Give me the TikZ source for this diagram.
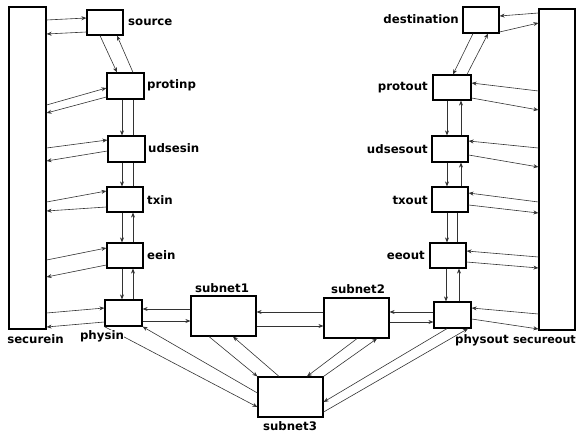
\documentclass[tikz,border=0pt]{standalone}
\usepackage{fontspec}
\setmainfont{DejaVu Sans}
\usetikzlibrary{arrows.meta,calc}
\begin{document}
\begin{tikzpicture}[x=1bp,y=-1bp,
  blk/.style={draw,line width=1.2bp,inner sep=0pt,minimum width=36bp,minimum height=25bp},
  net/.style={blk,minimum width=65bp,minimum height=40bp},
  bar/.style={draw,line width=1.2bp,inner sep=0pt},
  arr/.style={line width=0.6bp,draw=black!80,-{Stealth[length=5bp,width=4bp]}},
  ln/.style={line width=0.6bp,draw=black!80},
  lbl/.style={font=\fontsize{11.8}{14}\selectfont\bfseries,inner sep=1pt}]
\useasboundingbox (0,0) rectangle (577,434);
% security bars
\node[bar,minimum width=37bp,minimum height=322bp] (securein) at (27.5,168) {};
\node[bar,minimum width=36bp,minimum height=321bp] (secureout) at (557,169.5) {};
% input stack
\node[blk] (source) at (105,22.5) {};
\node[blk,minimum width=37bp,minimum height=26bp] (protinp) at (125.5,86) {};
\node[blk,minimum width=37bp,minimum height=26bp] (udsesin) at (126.5,149) {};
\node[blk] (txin) at (125,199.5) {};
\node[blk] (eein) at (125,255.5) {};
\node[blk,minimum width=37bp,minimum height=26bp] (physin) at (123.5,313) {};
% output stack
\node[blk,minimum height=26bp] (destination) at (481,20) {};
\node[blk,minimum width=38bp] (protout) at (452,87.5) {};
\node[blk,minimum height=26bp] (udsesout) at (450,149) {};
\node[blk] (txout) at (450,199.5) {};
\node[blk] (eeout) at (448,255.5) {};
\node[blk,minimum width=37bp,minimum height=26bp] (physout) at (452.5,315) {};
% subnets
\node[net] (subnet1) at (223.5,316) {};
\node[net] (subnet2) at (356.5,318) {};
\node[net] (subnet3) at (290.5,397) {};

% securein <-> input stack
\draw[arr] (securein.east |- 0,20) -- (source.west |- 0,18);
\draw[arr] (source.west |- 0,32) -- (securein.east |- 0,34);
\draw[arr] (securein.east |- 0,105) -- (protinp.west |- 0,88);
\draw[arr] (protinp.west |- 0,97) -- (securein.east |- 0,113);
\draw[arr] (securein.east |- 0,148) -- (udsesin.west |- 0,140);
\draw[arr] (udsesin.west |- 0,151) -- (securein.east |- 0,161);
\draw[arr] (securein.east |- 0,202) -- (txin.west |- 0,191);
\draw[arr] (txin.west |- 0,207) -- (securein.east |- 0,211);
\draw[arr] (securein.east |- 0,260) -- (eein.west |- 0,248);
\draw[arr] (eein.west |- 0,265) -- (securein.east |- 0,277);
\draw[arr] (securein.east |- 0,313) -- (physin.west |- 0,308);
\draw[arr] (physin.west |- 0,322) -- (securein.east |- 0,327);
% input stack, vertical links
\draw[arr] (source.south -| 100,0) -- (protinp.north -| 117,0);
\draw[arr] (protinp.north -| 133,0) -- (source.south -| 117,0);
\draw[arr] (protinp.south -| 122,0) -- (udsesin.north -| 122,0);
\draw[ln] (udsesin.north -| 133,0) -- (protinp.south -| 133,0);
\draw[arr] (udsesin.south -| 122,0) -- (txin.north -| 122,0);
\draw[ln] (txin.north -| 133,0) -- (udsesin.south -| 133,0);
\draw[arr] (txin.south -| 122,0) -- (eein.north -| 122,0);
\draw[arr] (eein.north -| 133,0) -- (txin.south -| 133,0);
\draw[arr] (eein.south -| 122,0) -- (physin.north -| 122,0);
\draw[arr] (physin.north -| 133,0) -- (eein.south -| 133,0);

% secureout <-> output stack
\draw[arr] (secureout.west |- 0,13) -- (destination.east |- 0,16);
\draw[arr] (destination.east |- 0,32) -- (secureout.west |- 0,23);
\draw[arr] (secureout.west |- 0,91) -- (protout.east |- 0,83);
\draw[arr] (protout.east |- 0,98) -- (secureout.west |- 0,110);
\draw[arr] (secureout.west |- 0,148) -- (udsesout.east |- 0,141);
\draw[arr] (udsesout.east |- 0,155) -- (secureout.west |- 0,167);
\draw[arr] (secureout.west |- 0,202) -- (txout.east |- 0,193);
\draw[arr] (txout.east |- 0,205) -- (secureout.west |- 0,213);
\draw[arr] (secureout.west |- 0,257) -- (eeout.east |- 0,251);
\draw[arr] (eeout.east |- 0,262) -- (secureout.west |- 0,268);
\draw[arr] (secureout.west |- 0,314) -- (physout.east |- 0,308);
\draw[arr] (physout.east |- 0,319) -- (secureout.west |- 0,329);
% output stack, vertical links
\draw[arr] (destination.south -| 473,0) -- (protout.north -| 453,0);
\draw[arr] (protout.north -| 467,0) -- (destination.south -| 488,0);
\draw[arr] (protout.south -| 447,0) -- (udsesout.north -| 447,0);
\draw[arr] (udsesout.north -| 461,0) -- (protout.south -| 461,0);
\draw[arr] (udsesout.south -| 447,0) -- (txout.north -| 447,0);
\draw[arr] (txout.north -| 461,0) -- (udsesout.south -| 461,0);
\draw[arr] (txout.south -| 447,0) -- (eeout.north -| 447,0);
\draw[ln] (eeout.north -| 457,0) -- (txout.south -| 457,0);
\draw[arr] (eeout.south -| 446,0) -- (physout.north -| 446,0);
\draw[arr] (physout.north -| 459,0) -- (eeout.south -| 459,0);

% physical layer and subnets
\draw[arr] (subnet1.west |- 0,309) -- (physin.east |- 0,309);
\draw[arr] (physin.east |- 0,321) -- (subnet1.west |- 0,321);
\draw[arr] (subnet2.west |- 0,312) -- (subnet1.east |- 0,312);
\draw[arr] (subnet1.east |- 0,326) -- (subnet2.west |- 0,326);
\draw[arr] (physout.west |- 0,312) -- (subnet2.east |- 0,312);
\draw[arr] (subnet2.east |- 0,322) -- (physout.west |- 0,322);
\draw[arr] (subnet1.south -| 209,0) -- (subnet3.north west);
\draw[arr] (subnet3.north -| 279,0) -- (subnet1.south -| 233,0);
\draw[arr] (subnet2.south -| 357,0) -- (subnet3.north -| 307,0);
\draw[arr] (subnet3.north east) -- (subnet2.south -| 377,0);
\draw[arr] (physout.south -| 447,0) -- (subnet3.east |- 0,402);
\draw[arr] (subnet3.east |- 0,412) -- (physout.south -| 468,0);
\draw[arr] (physin.south west) -- (subnet3.west |- 0,407);
\draw[arr] (subnet3.west |- 0,393) -- (physin.south east);

% labels
\node[lbl,anchor=west] (Lsource) at (127,22) {source};
\node[lbl,anchor=west] (Lprotinp) at (146,85) {protinp};
\node[lbl,anchor=west] (Ludsesin) at (147,148) {udsesin};
\node[lbl,anchor=west] (Ltxin) at (146,200) {txin};
\node[lbl,anchor=west] (Leein) at (146,255) {eein};
\node[lbl,fill=white,inner sep=0.5pt] (Lphysin) at (102,336) {physin};
\node[lbl] (Lsecurein) at (35.5,339) {securein};
\node[lbl] (Lsubnet1) at (222,288) {subnet1};
\node[lbl] (Lsubnet2) at (358,289) {subnet2};
\node[lbl] (Lsubnet3) at (290,426) {subnet3};
\node[lbl,anchor=west] (Lphysout) at (454,340) {physout};
\node[lbl,anchor=east,font=\fontsize{11.2}{14}\selectfont\bfseries] (Lsecureout) at (577,340) {secureout};
\node[lbl,anchor=east] (Ldestination) at (460,19) {destination};
\node[lbl,anchor=east] (Lprotout) at (429,88) {protout};
\node[lbl,anchor=east] (Ludsesout) at (429,149) {udsesout};
\node[lbl,anchor=east] (Ltxout) at (429,200) {txout};
\node[lbl,anchor=east] (Leeout) at (426,255) {eeout};
\end{tikzpicture}
\end{document}
